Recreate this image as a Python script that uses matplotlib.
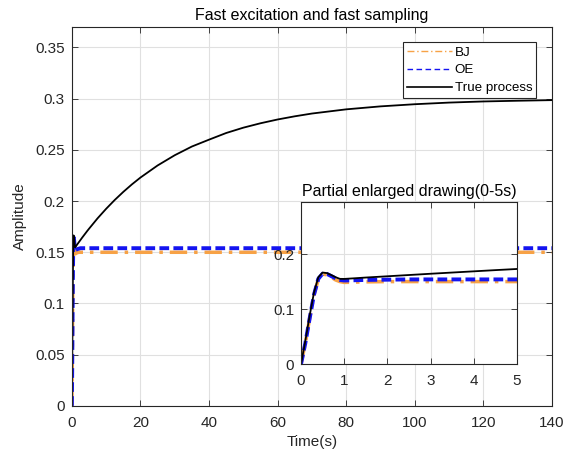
import matplotlib
matplotlib.use("Agg")
import matplotlib.pyplot as plt
from matplotlib.lines import Line2D

plt.rcParams['font.family'] = ['Liberation Sans', 'DejaVu Sans']

# Time points (s)
t = [0, 0.1, 0.2, 0.3, 0.4, 0.5, 0.6, 0.7, 0.8, 0.9,
     1.0, 1.25, 1.5, 2, 2.5, 3, 3.5, 4, 4.5, 5,
     7.5, 10, 12.5, 15, 17.5, 20, 25, 30, 35, 40,
     45, 50, 55, 60, 65, 70, 80, 90, 100, 110,
     120, 130, 140]

true_process = [0, 0.042, 0.088, 0.130, 0.158, 0.1665, 0.1655, 0.162, 0.158, 0.155,
                0.1549, 0.1561, 0.1574, 0.1597, 0.162, 0.1643, 0.1665, 0.1687, 0.1709, 0.1730,
                0.1832, 0.1925, 0.2011, 0.209, 0.2163, 0.223, 0.2348, 0.2448, 0.2533, 0.260,
                0.2665, 0.2717, 0.276, 0.2797, 0.2828, 0.2855, 0.2896, 0.2925, 0.2946, 0.2962,
                0.2973, 0.2980, 0.2986]

oe = [0, 0.038, 0.083, 0.126, 0.155, 0.1645, 0.164, 0.160, 0.156, 0.153,
      0.1520, 0.1525, 0.153, 0.1535, 0.154, 0.154, 0.154, 0.154, 0.154, 0.154,
      0.154, 0.154, 0.154, 0.154, 0.154, 0.154, 0.154, 0.154, 0.154, 0.154,
      0.154, 0.154, 0.154, 0.154, 0.154, 0.154, 0.154, 0.154, 0.154, 0.154,
      0.154, 0.154, 0.154]

bj = [0, 0.038, 0.083, 0.126, 0.154, 0.1635, 0.1625, 0.158, 0.153, 0.150,
      0.1485, 0.149, 0.1495, 0.150, 0.150, 0.150, 0.150, 0.150, 0.150, 0.150,
      0.150, 0.150, 0.150, 0.150, 0.150, 0.150, 0.150, 0.150, 0.150, 0.150,
      0.150, 0.150, 0.150, 0.150, 0.150, 0.150, 0.150, 0.150, 0.150, 0.150,
      0.150, 0.150, 0.150]

main_xticks = [0, 20, 40, 60, 80, 100, 120, 140]
main_yticks = [0, 0.05, 0.1, 0.15, 0.2, 0.25, 0.3, 0.35]
main_yticklabels = ['0', '0.05', '0.1', '0.15', '0.2', '0.25', '0.3', '0.35']
inset_xticks = [0, 1, 2, 3, 4, 5]
inset_yticks = [0, 0.1, 0.2]
inset_yticklabels = ['0', '0.1', '0.2']
labels = ['BJ', 'OE', 'True process']

BJ_COLOR = '#F7A246'
OE_COLOR = '#1414F0'
AX_COLOR = '#262626'
BJ_LS = (0, (5, 2, 1, 2))
OE_LS = (0, (2.5, 1.1))

fig = plt.figure(figsize=(5.75, 4.54), dpi=100)
ax = fig.add_axes([0.125, 0.106, 0.835, 0.8345])


def style(a, fs):
    for s in a.spines.values():
        s.set_color(AX_COLOR)
        s.set_linewidth(0.8)
    a.tick_params(direction='in', length=4, width=0.6, colors=AX_COLOR,
                  labelsize=fs, top=True, right=True)
    a.tick_params(axis='x', pad=7)
    a.tick_params(axis='y', pad=5)
    a.grid(True, color='#E0E0E0', linewidth=0.8)
    a.set_axisbelow(True)


ax.plot(t, bj, color=BJ_COLOR, linestyle=BJ_LS, linewidth=2.5)
ax.plot(t, oe, color=OE_COLOR, linestyle=OE_LS, linewidth=2.8)
ax.plot(t, true_process, color='black', linewidth=1.3)
ax.set_xlim(0, 140)
ax.set_ylim(0, 0.37)
ax.set_xticks(main_xticks)
ax.set_yticks(main_yticks)
ax.set_yticklabels(main_yticklabels)
style(ax, 11)
ax.set_xlabel('Time(s)', fontsize=11, color=AX_COLOR, labelpad=4)
ax.set_ylabel('Amplitude', fontsize=11, color=AX_COLOR, labelpad=6)
ax.set_title('Fast excitation and fast sampling', fontsize=11.5, color='black', pad=5)

handles = [Line2D([], [], color=BJ_COLOR, linestyle=(0, (5, 2, 1, 2)), linewidth=1),
           Line2D([], [], color=OE_COLOR, linestyle=(0, (4, 2.5)), linewidth=1),
           Line2D([], [], color='black', linewidth=1.2)]
leg = ax.legend(handles, labels, loc='upper right',
                bbox_to_anchor=(0.967, 0.960), borderaxespad=0, fontsize=9.6,
                fancybox=False, framealpha=1, edgecolor=AX_COLOR,
                handlelength=3.4, handletextpad=0.2, labelspacing=0.42,
                borderpad=0.3)
leg.get_frame().set_linewidth(0.8)

ins = fig.add_axes([0.5235, 0.1982, 0.3757, 0.357])
ins.plot(t, bj, color=BJ_COLOR, linestyle=BJ_LS, linewidth=2.5)
ins.plot(t, oe, color=OE_COLOR, linestyle=OE_LS, linewidth=2.8)
ins.plot(t, true_process, color='black', linewidth=1.3)
ins.set_xlim(0, 5)
ins.set_ylim(0, 0.295)
ins.set_xticks(inset_xticks)
ins.set_yticks(inset_yticks)
ins.set_yticklabels(inset_yticklabels)
ins.set_facecolor('white')
style(ins, 11)
ins.set_title('Partial enlarged drawing(0-5s)', fontsize=11.5, color='black', pad=4)

fig.savefig('out.png', dpi=100)
